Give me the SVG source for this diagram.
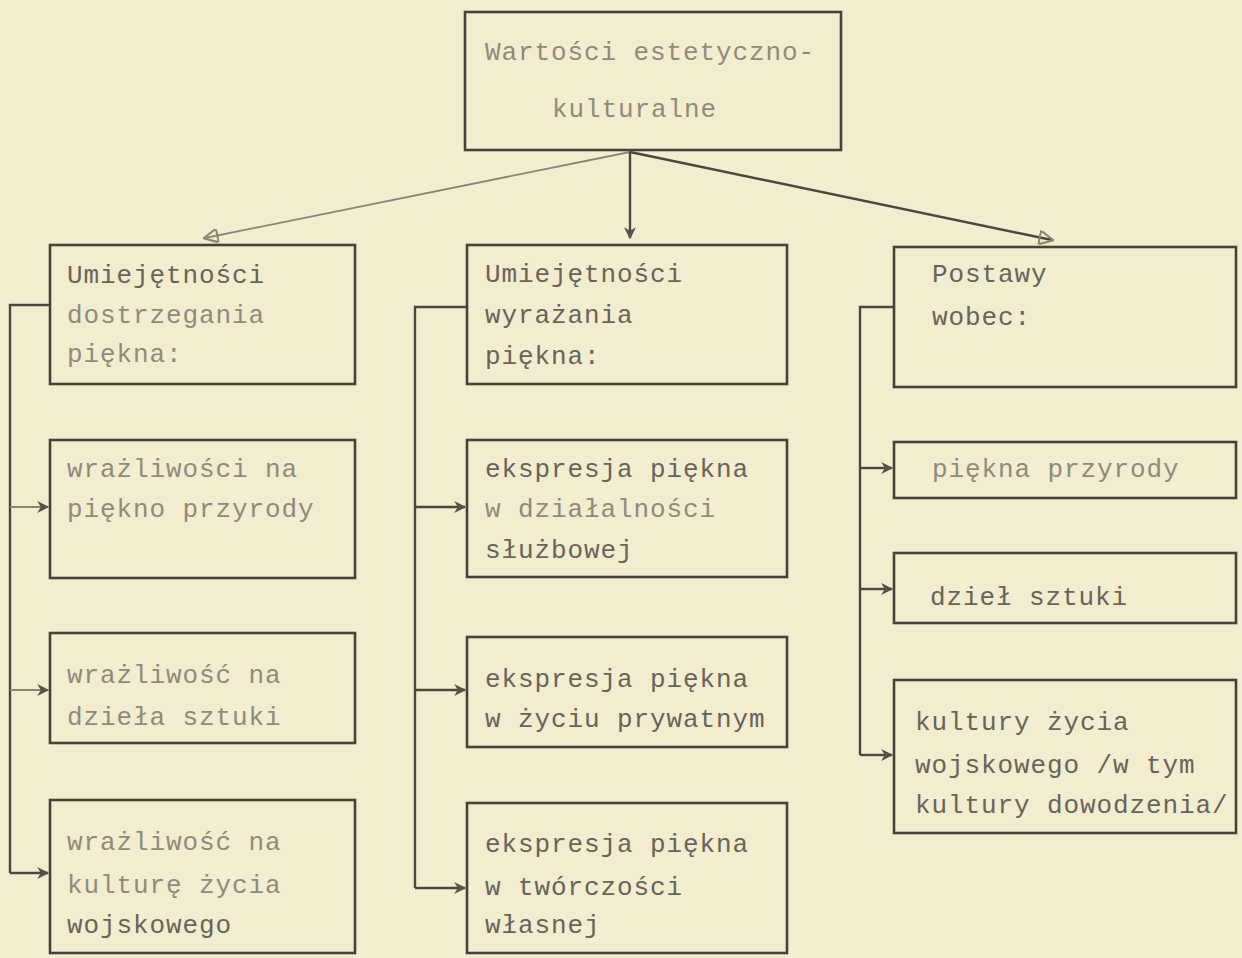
<svg xmlns="http://www.w3.org/2000/svg" width="1242" height="958" viewBox="0 0 1242 958">
<defs>
<style>
.box{fill:none;stroke:#45423a;stroke-width:2.6}
.t{font-family:"Liberation Mono","DejaVu Sans Mono",monospace;font-size:26px;letter-spacing:0.9px;fill:#67645a}
.tl{fill:#8f8b7c}
.c{fill:none;stroke:#4a473e;stroke-width:2.4}
.cl{fill:none;stroke:#8a8676;stroke-width:1.8}
</style>
<marker id="ah" viewBox="0 0 10 10" refX="9" refY="5" markerWidth="13" markerHeight="12" markerUnits="userSpaceOnUse" orient="auto">
<path d="M0,0 L10,5 L0,10 L3,5 Z" fill="#55524a"/>
</marker>
<marker id="ahl" viewBox="0 0 10 10" refX="9" refY="5" markerWidth="16" markerHeight="14" markerUnits="userSpaceOnUse" orient="auto">
<path d="M0,0 L10,5 L0,10 Z" fill="none" stroke="#8a8676" stroke-width="1.5"/>
</marker>
</defs>
<rect width="1242" height="958" fill="#f3edd0"/>

<g id="connectors">
<line class="cl" x1="630" y1="152" x2="205" y2="238" marker-end="url(#ahl)"/>
<line class="c" x1="630" y1="152" x2="630" y2="238" marker-end="url(#ah)"/>
<line class="c" x1="630" y1="152" x2="1052" y2="240" marker-end="url(#ahl)"/>
<polyline class="c" points="50,305 10,305 10,873"/>
<line class="cl" x1="10" y1="507" x2="48" y2="507" marker-end="url(#ah)"/>
<line class="cl" x1="10" y1="690" x2="48" y2="690" marker-end="url(#ah)"/>
<line class="c" x1="10" y1="873" x2="48" y2="873" marker-end="url(#ah)"/>
<polyline class="c" points="467,307 415,307 415,888"/>
<line class="c" x1="415" y1="507" x2="465" y2="507" marker-end="url(#ah)"/>
<line class="c" x1="415" y1="690" x2="465" y2="690" marker-end="url(#ah)"/>
<line class="c" x1="415" y1="888" x2="465" y2="888" marker-end="url(#ah)"/>
<polyline class="c" points="894,307 860,307 860,755"/>
<line class="c" x1="860" y1="468" x2="892" y2="468" marker-end="url(#ah)"/>
<line class="c" x1="860" y1="589" x2="892" y2="589" marker-end="url(#ah)"/>
<line class="c" x1="860" y1="755" x2="892" y2="755" marker-end="url(#ah)"/>
</g>

<g id="top">
<rect class="box" x="465" y="12" width="376" height="138"/>
<text class="t tl" x="485" y="60">Wartości estetyczno-</text>
<text class="t tl" x="552" y="117">kulturalne</text>
</g>

<g id="left-head">
<rect class="box" x="50" y="245" width="305" height="139"/>
<text class="t" x="67" y="283">Umiejętności</text>
<text class="t tl" x="67" y="323">dostrzegania</text>
<text class="t tl" x="67" y="362">piękna:</text>
</g>
<g id="left-1">
<rect class="box" x="50" y="440" width="305" height="138"/>
<text class="t tl" x="67" y="477">wrażliwości na</text>
<text class="t tl" x="67" y="517">piękno przyrody</text>
</g>
<g id="left-2">
<rect class="box" x="50" y="633" width="305" height="110"/>
<text class="t tl" x="67" y="683">wrażliwość na</text>
<text class="t tl" x="67" y="725">dzieła sztuki</text>
</g>
<g id="left-3">
<rect class="box" x="50" y="800" width="305" height="153"/>
<text class="t tl" x="67" y="850">wrażliwość na</text>
<text class="t tl" x="67" y="893">kulturę życia</text>
<text class="t" x="67" y="933">wojskowego</text>
</g>

<g id="mid-head">
<rect class="box" x="467" y="245" width="320" height="139"/>
<text class="t" x="485" y="282">Umiejętności</text>
<text class="t" x="485" y="323">wyrażania</text>
<text class="t" x="485" y="364">piękna:</text>
</g>
<g id="mid-1">
<rect class="box" x="467" y="440" width="320" height="137"/>
<text class="t" x="485" y="477">ekspresja piękna</text>
<text class="t tl" x="485" y="517">w działalności</text>
<text class="t" x="485" y="558">służbowej</text>
</g>
<g id="mid-2">
<rect class="box" x="467" y="637" width="320" height="110"/>
<text class="t" x="485" y="687">ekspresja piękna</text>
<text class="t" x="485" y="727">w życiu prywatnym</text>
</g>
<g id="mid-3">
<rect class="box" x="467" y="803" width="320" height="150"/>
<text class="t" x="485" y="852">ekspresja piękna</text>
<text class="t" x="485" y="895">w twórczości</text>
<text class="t" x="485" y="933">własnej</text>
</g>

<g id="right-head">
<rect class="box" x="894" y="247" width="342" height="140"/>
<text class="t" x="932" y="282">Postawy</text>
<text class="t" x="932" y="325">wobec:</text>
</g>
<g id="right-1">
<rect class="box" x="894" y="442" width="342" height="56"/>
<text class="t tl" x="932" y="477">piękna przyrody</text>
</g>
<g id="right-2">
<rect class="box" x="894" y="553" width="342" height="70"/>
<text class="t" x="930" y="605">dzieł sztuki</text>
</g>
<g id="right-3">
<rect class="box" x="894" y="680" width="342" height="153"/>
<text class="t" x="915" y="730">kultury życia</text>
<text class="t" x="915" y="773">wojskowego /w tym</text>
<text class="t" x="915" y="813">kultury dowodzenia/</text>
</g>
</svg>
